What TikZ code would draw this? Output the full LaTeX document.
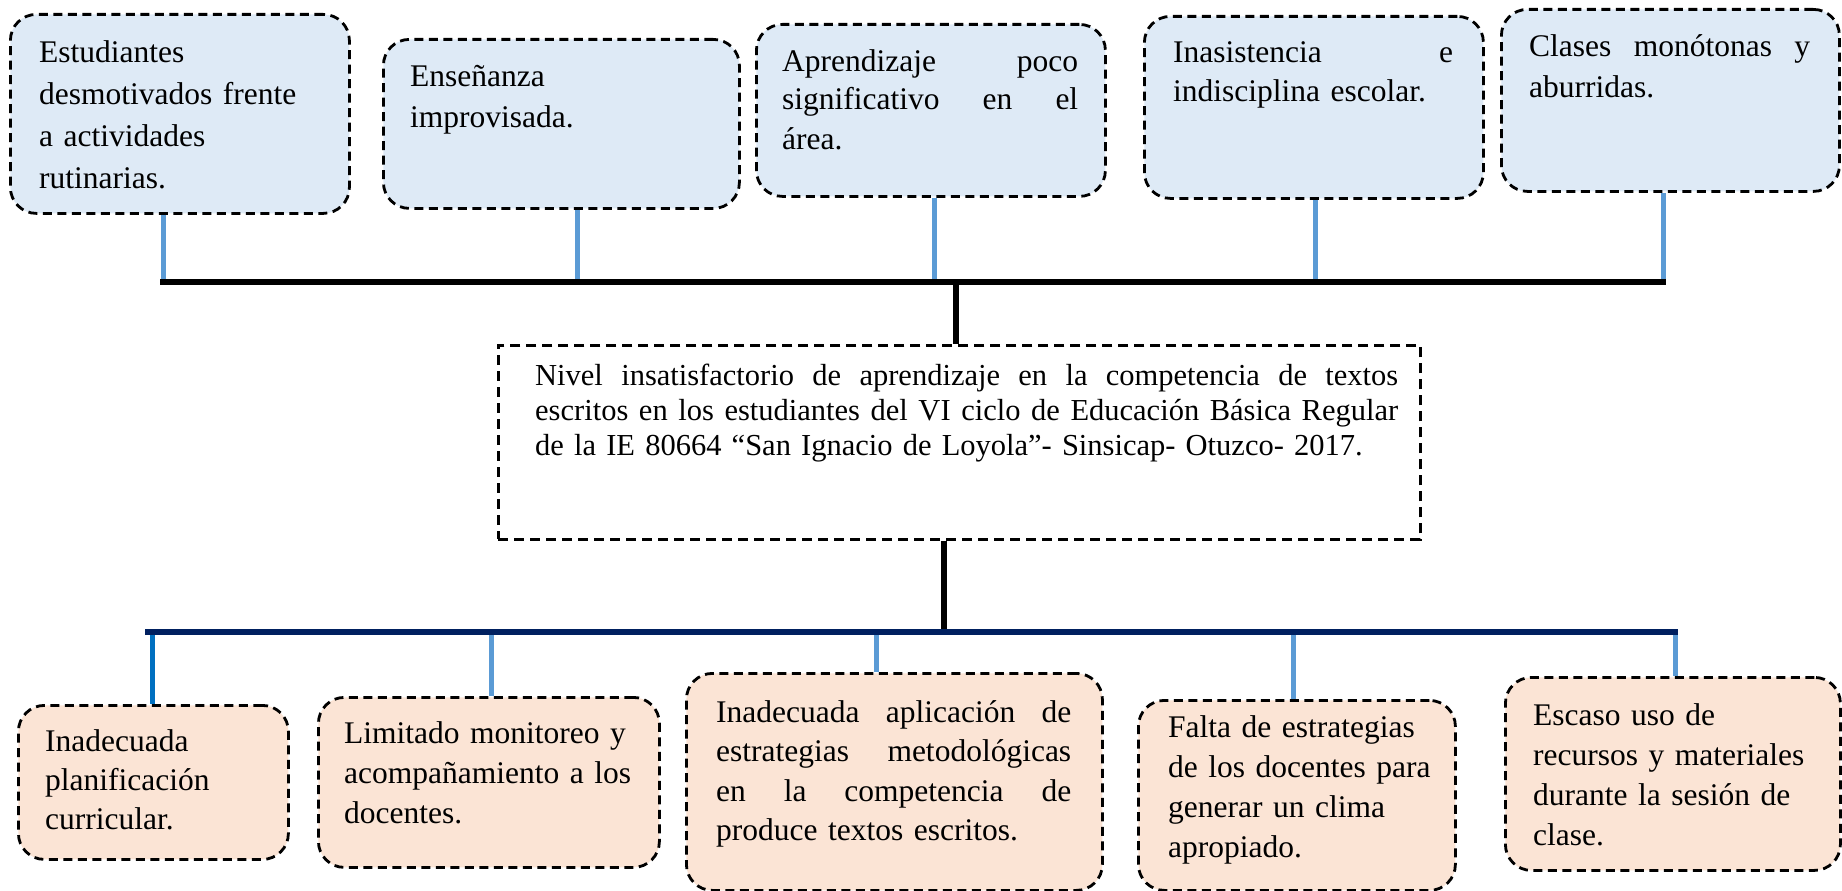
\documentclass[tikz,border=0pt]{standalone}
\usepackage{fontspec}
\setmainfont{Liberation Serif}
\definecolor{topfill}{HTML}{DEEAF6}
\definecolor{botfill}{HTML}{FBE4D5}
\definecolor{conblue}{HTML}{5B9BD5}
\definecolor{condark}{HTML}{0070C0}
\definecolor{navybar}{HTML}{002060}
\newcommand{\jl}[2]{\leavevmode\hbox to #1{\spaceskip=0.25em plus 20em\relax #2}}
\begin{document}
\begin{tikzpicture}[x=1pt,y=-1pt,
  box/.style={draw=black, line width=2.8pt, dash pattern=on 9pt off 5.5pt,
    rounded corners=26pt, inner sep=0pt, anchor=north west},
  topbox/.style={box, fill=topfill},
  botbox/.style={box, fill=botfill},
  mainbox/.style={draw=black, line width=2.6pt, dash pattern=on 10pt off 6pt,
    inner sep=0pt, anchor=north west},
  txt/.style={anchor=base west, inner sep=0pt, align=left, text width=#1,
    font=\fontsize{31.5}{40}\selectfont},
  txt/.default=420pt,
  tcon/.style={draw=conblue, line width=5pt},
  dcon/.style={draw=condark, line width=5pt},
  topbar/.style={draw=black, line width=5.5pt},
  botbar/.style={draw=navybar, line width=5.5pt},
  stem/.style={draw=black, line width=6pt}]
\useasboundingbox (0,0) rectangle (1842,891);

% top effect boxes
\node[topbox, minimum width=339pt, minimum height=199pt] (t1) at (9,13) {};
\node[topbox, minimum width=356pt, minimum height=169pt] (t2) at (382,38) {};
\node[topbox, minimum width=349pt, minimum height=172pt] (t3) at (755,23) {};
\node[topbox, minimum width=339pt, minimum height=182pt] (t4) at (1143,15) {};
\node[topbox, minimum width=338pt, minimum height=182pt] (t5) at (1500,8) {};

\node[txt, font=\fontsize{31.5}{42}\selectfont] (t1x) at (39,63)
  {Estudiantes\\desmotivados frente\\a actividades\\rutinarias.};
\node[txt] (t2x) at (410,87) {Enseñanza\\improvisada.};
\node[txt=300pt, font=\fontsize{31.5}{39}\selectfont] (t3x) at (782,71)
  {\jl{296pt}{Aprendizaje poco}\\\jl{296pt}{significativo en el}\\área.};
\node[txt=300pt, font=\fontsize{31.5}{39}\selectfont] (t4x) at (1173,63)
  {\jl{280pt}{Inasistencia e}\\indisciplina escolar.};
\node[txt=300pt] (t5x) at (1529,57) {\jl{281pt}{Clases monótonas y}\\aburridas.};

% central problem
\node[mainbox, minimum width=922pt, minimum height=194pt] (c) at (497,344) {};
\node[txt=870pt, font=\fontsize{30.5}{35}\selectfont] (cx) at (535,385)
  {\jl{863pt}{Nivel insatisfactorio de aprendizaje en la competencia de textos}\\
   \jl{863pt}{escritos en los estudiantes del VI ciclo de Educación Básica Regular}\\
   de la IE 80664 “San Ignacio de Loyola”- Sinsicap- Otuzco- 2017.};

% bottom cause boxes
\node[botbox, minimum width=270pt, minimum height=154pt] (b1) at (17,704) {};
\node[botbox, minimum width=341pt, minimum height=170pt] (b2) at (317,696) {};
\node[botbox, minimum width=416pt, minimum height=217pt] (b3) at (685,672) {};
\node[botbox, minimum width=317pt, minimum height=190pt] (b4) at (1137,699) {};
\node[botbox, minimum width=335pt, minimum height=193pt] (b5) at (1504,676) {};

\node[txt, font=\fontsize{31.5}{39}\selectfont] (b1x) at (45,751)
  {Inadecuada\\planificación\\curricular.};
\node[txt] (b2x) at (344,743)
  {Limitado monitoreo y\\acompañamiento a los\\docentes.};
\node[txt=360pt, font=\fontsize{31.5}{39.5}\selectfont] (b3x) at (716,722)
  {\jl{355pt}{Inadecuada aplicación de}\\\jl{355pt}{estrategias metodológicas}\\\jl{355pt}{en la competencia de}\\produce textos escritos.};
\node[txt] (b4x) at (1168,737)
  {Falta de estrategias\\de los docentes para\\generar un clima\\apropiado.};
\node[txt] (b5x) at (1533,725)
  {Escaso uso de\\recursos y materiales\\durante la sesión de\\clase.};

% top bar and connectors
\coordinate (tl) at (160,282);
\coordinate (tr) at (1666,282);
\coordinate (ct1) at (163,282);
\coordinate (ct2) at (577,282);
\coordinate (ct3) at (934,282);
\coordinate (ct4) at (1315,282);
\coordinate (ct5) at (1663,282);
\foreach \i in {1,...,5} {\draw[tcon] (t\i.south -| ct\i) -- (ct\i);}
\draw[topbar] (tl) -- (tr);

\coordinate (cm) at (956,282);
\draw[stem] (cm) -- (cm |- c.north);
\coordinate (bm) at (944,632);
\draw[stem] (c.south -| bm) -- (bm);

% bottom bar and connectors
\coordinate (bl) at (145,632);
\coordinate (br) at (1678,632);
\coordinate (cb1) at (152,632);
\coordinate (cb2) at (491,632);
\coordinate (cb3) at (876,632);
\coordinate (cb4) at (1293,632);
\coordinate (cb5) at (1675,632);
\draw[dcon] (cb1) -- (b1.north -| cb1);
\foreach \i in {2,...,5} {\draw[tcon] (cb\i) -- (b\i.north -| cb\i);}
\draw[botbar] (bl) -- (br);
\end{tikzpicture}
\end{document}
